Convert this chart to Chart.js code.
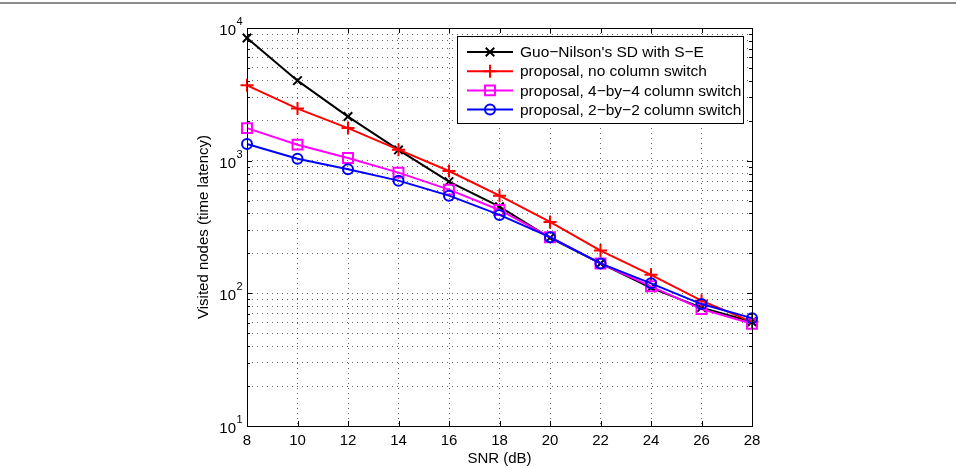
<!DOCTYPE html>
<html>
<head>
<meta charset="utf-8">
<script src="https://cdn.jsdelivr.net/npm/chart.js@4/dist/chart.umd.min.js"></script>
<style>
  html, body { margin: 0; padding: 0; background: #fff; }
  #wrap { width: 956px; height: 468px; position: relative; }
</style>
</head>
<body>
<div id="wrap"><canvas id="chart" width="956" height="468"></canvas></div>
<script>
  const snr = [8, 10, 12, 14, 16, 18, 20, 22, 24, 26, 28];
  const guoNilson = [8400, 4010, 2150, 1205, 695, 450, 262, 168, 110, 78, 61];
  const noSwitch = [3700, 2470, 1760, 1210, 836, 545, 345, 210, 138, 88, 61];
  const switch4 = [1760, 1320, 1047, 813, 605, 425, 265, 168, 113, 76, 59];
  const switch2 = [1337, 1035, 861, 707, 545, 390, 265, 168, 119, 83, 65];

  const seriesNames = [
    "Guo\u2212Nilson's SD with S\u2212E",
    "proposal, no column switch",
    "proposal, 4\u2212by\u22124 column switch",
    "proposal, 2\u2212by\u22122 column switch",
  ];
  const xTicks = [8, 10, 12, 14, 16, 18, 20, 22, 24, 26, 28];
  const decades = [10, 100, 1000, 10000];
  const decadeExp = ["1", "2", "3", "4"];

  const FONT = '"Liberation Sans", Arial, Helvetica, sans-serif';

  // minor grid at 2..9 x each decade (MATLAB log-axis style)
  const yGrid = [];
  decades.forEach((d, i) => {
    yGrid.push(d);
    if (i < decades.length - 1) for (let k = 2; k <= 9; k++) yGrid.push(d * k);
  });

  const styles = [
    { color: "#000000", point: "crossRot", r: 6, order: 4 },
    { color: "#ff0000", point: "cross", r: 6.5, order: 3 },
    { color: "#ff00ff", point: "rect", r: 7, order: 2 },
    { color: "#0000ff", point: "circle", r: 5, order: 1 },
  ];
  const values = [guoNilson, noSwitch, switch4, switch2];

  const datasets = values.map((vals, i) => ({
    label: seriesNames[i],
    data: vals.map((v, j) => ({ x: snr[j], y: v })),
    borderColor: styles[i].color,
    backgroundColor: "rgba(0,0,0,0)",
    borderWidth: 2,
    pointStyle: styles[i].point,
    pointRadius: styles[i].r,
    pointBorderWidth: 2,
    pointBorderColor: styles[i].color,
    pointBackgroundColor: "rgba(0,0,0,0)",
    tension: 0,
    clip: false,
    order: styles[i].order,
  }));

  const frame = {
    id: "frame",
    beforeDraw(chart) {
      const c = chart.ctx;
      c.save();
      c.fillStyle = "#8c8c8c";
      c.fillRect(0, 2, 956, 2);
      c.restore();
    },
    afterDraw(chart) {
      const c = chart.ctx;
      const a = chart.chartArea;
      const xs = chart.scales.x;
      const ys = chart.scales.y;
      c.save();
      c.strokeStyle = "#000";
      c.lineWidth = 1;
      c.strokeRect(a.left + 0.5, a.top + 0.5, a.right - a.left, a.bottom - a.top);

      // inner ticks
      c.beginPath();
      xTicks.forEach((t) => {
        const px = Math.round(xs.getPixelForValue(t)) + 0.5;
        c.moveTo(px, a.bottom); c.lineTo(px, a.bottom - 5);
        c.moveTo(px, a.top); c.lineTo(px, a.top + 5);
      });
      yGrid.forEach((v) => {
        const py = Math.round(ys.getPixelForValue(v)) + 0.5;
        const len = decades.includes(v) ? 5 : 3;
        c.moveTo(a.left, py); c.lineTo(a.left + len, py);
        c.moveTo(a.right, py); c.lineTo(a.right - len, py);
      });
      c.stroke();

      // y tick labels 10^n
      c.fillStyle = "#000";
      decades.forEach((d, i) => {
        const py = ys.getPixelForValue(d);
        c.font = "15px " + FONT;
        c.textAlign = "right";
        c.textBaseline = "alphabetic";
        c.fillText("10", 236, py + 7);
        c.font = "11px " + FONT;
        c.textAlign = "left";
        c.fillText(decadeExp[i], 236.5, py - 3);
      });

      // legend
      const L = { left: 457, top: 36, right: 743, bottom: 123 };
      c.fillStyle = "#fff";
      c.fillRect(L.left, L.top, L.right - L.left, L.bottom - L.top);
      c.strokeStyle = "#000";
      c.lineWidth = 1;
      c.strokeRect(L.left + 0.5, L.top + 0.5, L.right - L.left, L.bottom - L.top);
      chart.data.datasets.forEach((ds, i) => {
        const y = 52 + i * 19.2;
        c.strokeStyle = ds.borderColor;
        c.lineWidth = 2;
        c.beginPath();
        c.moveTo(467, y); c.lineTo(513, y);
        c.stroke();
        c.fillStyle = "rgba(0,0,0,0)";
        Chart.helpers.drawPoint(c, {
          pointStyle: ds.pointStyle, radius: ds.pointRadius, borderWidth: 2, rotation: 0,
        }, 490, y);
        c.fillStyle = "#000";
        c.font = "15.5px " + FONT;
        c.textAlign = "left";
        c.textBaseline = "middle";
        c.fillText(ds.label, 520, y + 1);
      });
      c.restore();
    },
  };

  new Chart(document.getElementById("chart"), {
    type: "line",
    data: { datasets },
    options: {
      responsive: false,
      animation: false,
      layout: { padding: { left: 190, top: 28, right: 204, bottom: 0 } },
      plugins: { legend: { display: false }, tooltip: { enabled: false } },
      scales: {
        x: {
          type: "linear",
          min: 8,
          max: 28,
          afterBuildTicks: (axis) => { axis.ticks = xTicks.map((v) => ({ value: v })); },
          ticks: { color: "#000", font: { family: FONT, size: 15 }, padding: 6, maxRotation: 0 },
          grid: { color: "rgba(0,0,0,0.6)", lineWidth: 1, drawTicks: false },
          border: { display: false, dash: [1, 4] },
          title: { display: true, text: "SNR (dB)", color: "#000", font: { family: FONT, size: 15 }, padding: 0 },
          afterFit: (s) => { s.height = 42; },
        },
        y: {
          type: "logarithmic",
          min: 10,
          max: 10000,
          afterBuildTicks: (axis) => { axis.ticks = yGrid.map((v) => ({ value: v })); },
          ticks: { display: false },
          grid: { color: "rgba(0,0,0,0.6)", lineWidth: 1, drawTicks: false },
          border: { display: false, dash: [1, 4] },
          title: { display: true, text: "Visited nodes (time latency)", color: "#000", font: { family: FONT, size: 15 }, padding: { top: 5, bottom: 0 } },
          afterFit: (s) => { s.width = 57; },
        },
      },
    },
    plugins: [frame],
  });
</script>
</body>
</html>
